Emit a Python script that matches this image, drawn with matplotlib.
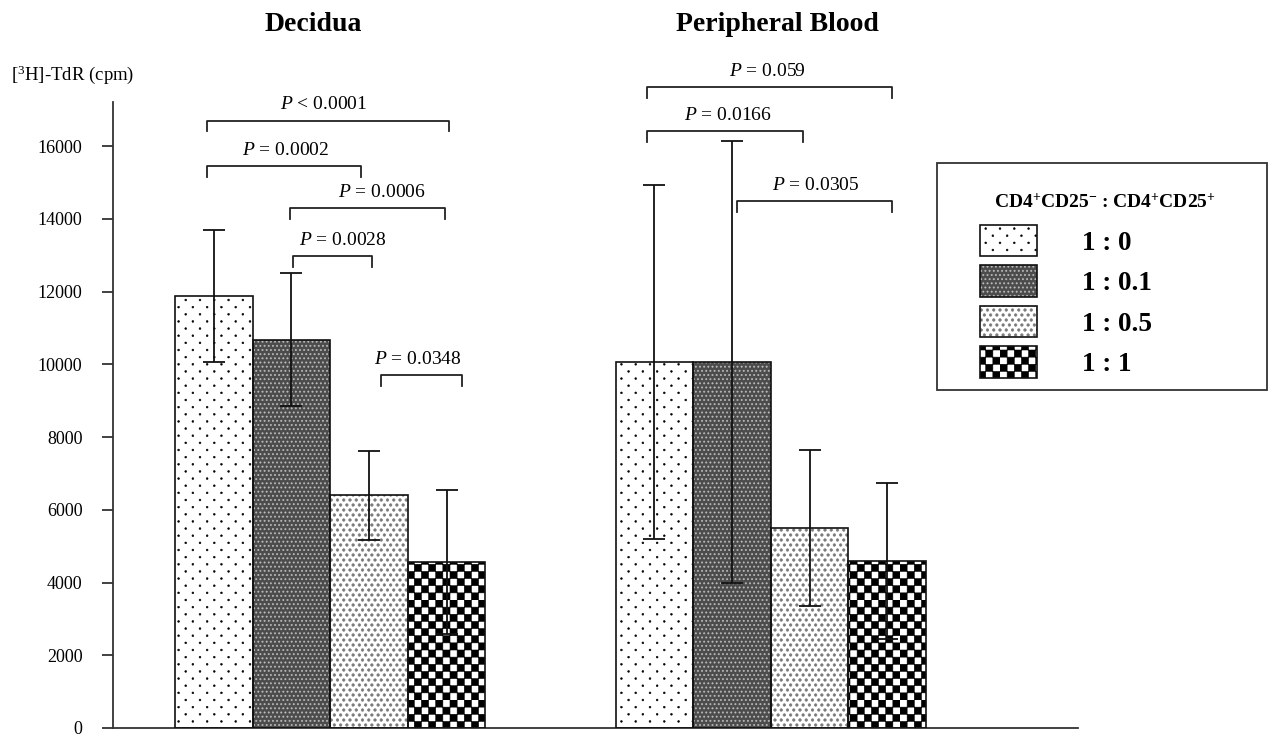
import warnings
warnings.filterwarnings('ignore')
import numpy as np
import matplotlib
matplotlib.use('Agg')
import matplotlib.pyplot as plt
import matplotlib.hatch as mhatch
from matplotlib.path import Path
from matplotlib.patches import Rectangle

plt.rcParams['font.family'] = ['Liberation Serif', 'DejaVu Serif']
plt.rcParams['mathtext.fontset'] = 'custom'
plt.rcParams['mathtext.rm'] = 'Liberation Serif'
plt.rcParams['mathtext.it'] = 'Liberation Serif:italic'
plt.rcParams['mathtext.bf'] = 'Liberation Serif:bold'
plt.rcParams['hatch.linewidth'] = 0.4

# ---------------- data ----------------
groups = ['Decidua', 'Peripheral Blood']
ratios = ['1 : 0', '1 : 0.1', '1 : 0.5', '1 : 1']
decidua_mean = [11880, 10670, 6400, 4560]
decidua_err = [1810, 1830, 1220, 1980]
blood_mean = [10060, 10060, 5500, 4590]
blood_err = [4870, 6075, 2145, 2140]
y_ticks = [0, 2000, 4000, 6000, 8000, 10000, 12000, 14000, 16000]

p_labels = [r'$P$ < 0.0001', r'$P$ = 0.0002', r'$P$ = 0.0006', r'$P$ = 0.0028',
            r'$P$ = 0.0348', r'$P$ = 0.059', r'$P$ = 0.0166', r'$P$ = 0.0305']
bracket_left = [-0.09, -0.09, 0.98, 1.02, 2.15, 5.58, 5.58, 6.74]
bracket_right = [3.03, 1.90, 2.98, 2.04, 3.20, 8.74, 7.59, 8.74]
bracket_y = [16700, 15440, 14290, 12970, 9700, 17610, 16400, 14480]
label_x = [1.41, 0.93, 2.17, 1.66, 2.63, 7.13, 6.63, 7.76]

group_pos = [0.0, 5.68]

# ---------------- custom hatch patterns ----------------
def make_dot_hatch(char, ncols, nrows, radius):
    circ = Path.unit_circle()
    cv, cc = circ.vertices, circ.codes
    centers = []
    for r in range(nrows + 1):
        yy = r / nrows
        if r % 2 == 0:
            xs = [c / ncols for c in range(ncols + 1)]
        else:
            xs = [(c + 0.5) / ncols for c in range(ncols)]
        centers += [(xx, yy) for xx in xs]

    class DotHatch(mhatch.HatchPatternBase):
        def __init__(self, hatch, density):
            self.on = char in hatch
            self.num_vertices = len(centers) * len(cv) if self.on else 0

        def set_vertices_and_codes(self, vertices, codes):
            k = len(cv)
            for i, (xx, yy) in enumerate(centers):
                vertices[i * k:(i + 1) * k] = cv * radius + (xx, yy)
                codes[i * k:(i + 1) * k] = cc
    return DotHatch


class CheckerHatch(mhatch.HatchPatternBase):
    n = 14

    def __init__(self, hatch, density):
        self.on = 'k' in hatch
        n = self.n
        self.cells = [(i, j) for i in range(n) for j in range(n) if (i + j) % 2 == 0]
        self.num_vertices = 5 * len(self.cells) if self.on else 0

    def set_vertices_and_codes(self, vertices, codes):
        s = 1.0 / self.n
        for idx, (i, j) in enumerate(self.cells):
            x0, y0 = i * s, j * s
            vertices[5 * idx:5 * idx + 5] = [(x0, y0), (x0 + s, y0), (x0 + s, y0 + s),
                                             (x0, y0 + s), (x0, y0)]
            codes[5 * idx:5 * idx + 5] = [Path.MOVETO, Path.LINETO, Path.LINETO,
                                          Path.LINETO, Path.CLOSEPOLY]


mhatch._hatch_types.extend([
    make_dot_hatch('q', 7, 14, 0.009),
    make_dot_hatch('w', 24, 24, 0.007),
    make_dot_hatch('e', 16, 20, 0.013),
    CheckerHatch,
])

styles = [
    dict(face='white', hcol='black', hatch='q'),
    dict(face='#4c4c4c', hcol='#bdbdbd', hatch='w'),
    dict(face='white', hcol='#7a7a7a', hatch='e'),
    dict(face='white', hcol='black', hatch='k'),
]

# ---------------- figure ----------------
W, H = 1268, 748
fig = plt.figure(figsize=(W / 100, H / 100), dpi=100)
ax = fig.add_axes([113 / W, (H - 728) / H, 965 / W, 626 / H])

handles = []
all_x, all_m, all_e = [], [], []
for i, st in enumerate(styles):
    xs = [g + i for g in group_pos]
    hs = [decidua_mean[i], blood_mean[i]]
    b1 = ax.bar(xs, hs, width=1.0, color=st['face'], edgecolor=st['hcol'],
                linewidth=0, hatch=st['hatch'], zorder=2)
    b2 = ax.bar(xs, hs, width=1.0, fill=False, edgecolor='#111111',
                linewidth=1.2, zorder=3)
    handles.append((b1.patches[0], b2.patches[0]))
    all_x += xs
    all_m += hs
    all_e += [decidua_err[i], blood_err[i]]

ax.errorbar(all_x, all_m, yerr=all_e, fmt='none', ecolor='#111111',
            elinewidth=1.3, capsize=8, capthick=1.3, zorder=4)

# significance brackets
leg = 300
for lab, x1, x2, yb, lx in zip(p_labels, bracket_left, bracket_right, bracket_y, label_x):
    ax.plot([x1, x1, x2, x2], [yb - leg, yb, yb, yb - leg], color='#222222',
            lw=1.3, clip_on=False, zorder=5)
    ax.annotate(lab, (lx, yb), xytext=(0, 8), textcoords='offset points',
                ha='center', va='baseline', fontsize=14, annotation_clip=False)

ax.set_xlim(-1.30, 11.14)
ax.set_ylim(0, 17210)
ax.set_yticks(y_ticks)
ax.set_yticklabels([str(t) for t in y_ticks])
ax.set_xticks([])
for s in ['top', 'right']:
    ax.spines[s].set_visible(False)
for s in ['left', 'bottom']:
    ax.spines[s].set_linewidth(1.3)
    ax.spines[s].set_color('#333333')
ax.tick_params(axis='y', direction='out', length=8, width=1.3, pad=14,
               labelsize=13, color='#333333')

# titles and axis label
fig.text(313 / W, 1 - 31 / H, groups[0], ha='center', va='baseline',
         fontsize=20, fontweight='bold')
fig.text(777 / W, 1 - 31 / H, groups[1], ha='center', va='baseline',
         fontsize=20, fontweight='bold')
fig.text(11 / W, 1 - 80 / H, '[$^{3}$H]-TdR (cpm)', ha='left', va='baseline',
         fontsize=13.5)

# legend
fig.add_artist(Rectangle((937 / W, 1 - 390 / H), 330 / W, 227 / H,
                         transform=fig.transFigure, fill=False,
                         edgecolor='#333333', linewidth=1.3))
fig.text(1105 / W, 1 - 202 / H,
         r'CD4$^{\mathbf{+}}$CD25$^{\mathbf{-}}$ : CD4$^{\mathbf{+}}$CD25$^{\mathbf{+}}$',
         ha='center', va='center', fontsize=14, fontweight='bold')
fig.legend(handles, ratios, loc='upper left',
           bbox_to_anchor=(980 / W, 1 - 225 / H), frameon=False,
           borderpad=0, borderaxespad=0, handlelength=2.1, handleheight=1.40,
           labelspacing=0.34, handletextpad=1.66,
           prop=dict(family='Liberation Serif', weight='bold', size=19.5))

fig.savefig('out.png', dpi=100)
